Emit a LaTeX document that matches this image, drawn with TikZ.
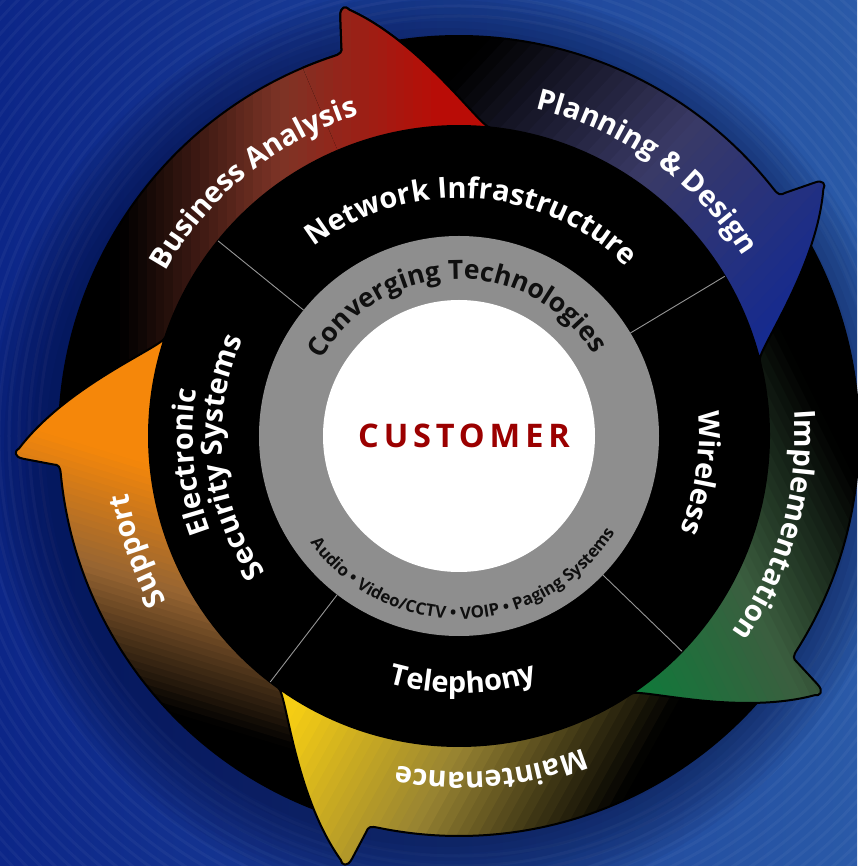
\documentclass[tikz,border=0pt]{standalone}
\usepackage{fontspec}
\setmainfont{Open Sans}
\usetikzlibrary{decorations.text}
\definecolor{redM}{RGB}{125,52,38}
\definecolor{redE}{RGB}{185,12,6}
\definecolor{bluM}{RGB}{58,58,102}
\definecolor{bluE}{RGB}{21,42,144}
\definecolor{grnM}{RGB}{59,94,63}
\definecolor{grnE}{RGB}{15,122,58}
\definecolor{yelM}{RGB}{150,130,50}
\definecolor{yelE}{RGB}{245,205,20}
\definecolor{orgM}{RGB}{150,100,50}
\definecolor{orgE}{RGB}{245,135,10}
\definecolor{ringgray}{RGB}{142,142,142}
\definecolor{custred}{RGB}{155,0,0}
\definecolor{bgL}{RGB}{12,38,136}
\definecolor{bgR}{RGB}{42,90,168}
\definecolor{shadow}{RGB}{4,10,50}
\definecolor{divgray}{RGB}{150,150,150}
\definecolor{txtdark}{RGB}{15,15,15}
\tikzset{arrowline/.style={draw=black, line width=2pt, line join=round}}
% arrow outline: s = tail angle, n = notch, b = barb, t = tip
\newcommand\arrowshape[4]{(#1:310) -- (#1:400) arc[start angle=#1, end angle={#2+1.5}, radius=400]
  .. controls ({#2+0.3}:400) and ({#2}:401) .. ({#2-0.1}:407)
  -- ({#3+0.4}:436) .. controls ({#3+0.1}:446) and ({#3-0.7}:445) .. ({#3-1}:440)
  .. controls ({#3-10}:395) and ({#4+2}:311) .. (#4:310)
  arc[start angle=#4, end angle=#1, radius=310] -- cycle}
\newcommand\gradarrow[9]{%
  \begin{scope}
    \clip \arrowshape{#1}{#2}{#3}{#4};
    \fill[black] (-700,-700) rectangle (700,700);
    \begin{scope}[shift={#5}, rotate=#6]
      \foreach \gi in {0,...,35}{%
        \pgfmathsetmacro\gxa{#7*\gi/36}%
        \pgfmathsetmacro\gxb{#7*(\gi+1)/36+0.8}%
        \ifnum\gi<18
          \pgfmathtruncatemacro\gp{100*(\gi+0.5)/18}\colorlet{gc}{#8!\gp!black}%
        \else
          \pgfmathtruncatemacro\gp{100*(\gi-17.5)/18}\colorlet{gc}{#9!\gp!#8}%
        \fi
        \fill[gc] (\gxa,-1000) -- (\gxb,-1000) -- (\gxb,1000) -- (\gxa,1000) -- cycle;
      }
      \fill[#9] (#7,-1000) -- (1800,-1000) -- (1800,1000) -- (#7,1000) -- cycle;
    \end{scope}
  \end{scope}
  \path[arrowline] \arrowshape{#1}{#2}{#3}{#4};
}
\newcommand\cwtext[5]{%
  \path[decorate, decoration={text along path, text align=center, text color=#4, text={|#3|#5}}]
    ({#1+80}:#2) arc[start angle={#1+80}, end angle={#1-80}, radius=#2];}
\newcommand\ccwtext[5]{%
  \path[decorate, decoration={text along path, text align=center, text color=#4, text={|#3|#5}}]
    ({#1-80}:#2) arc[start angle={#1-80}, end angle={#1+80}, radius=#2];}
\newcommand\labfont{\bfseries\fontsize{29}{29}\selectfont}
\newcommand\ctfont{\bfseries\fontsize{26.5}{26.5}\selectfont}
\newcommand\avfont{\bfseries\fontsize{16.8}{16.8}\selectfont}
\begin{document}
\begin{tikzpicture}[x=1pt,y=1pt]
\useasboundingbox (-459,-430) rectangle (398,436);
% background
\shade[left color=bgL, right color=bgR] (-459,-430) rectangle (398,436);
\begin{scope}
  \clip (-459,-430) rectangle (398,436);
  \foreach \r in {420,430,...,1000} \draw[white, opacity=0.04, line width=3pt] (0,0) circle (\r);
  \foreach \k in {1,...,10} \fill[shadow, opacity=0.06] (-14,-12) circle ({392+7*\k});
\end{scope}
% arrows (each head over next tail)
\gradarrow{179.5}{106.9}{105.4}{84.3}{(-339,0)}{0}{320}{redM}{redE}
\gradarrow{252.4}{184.1}{182.6}{161.5}{(-229,-294)}{73}{230}{orgM}{orgE}
\gradarrow{-38.2}{-103.1}{-104.6}{-125.6}{(218,-267)}{150.9}{330}{yelM}{yelE}
\gradarrow{32.1}{-33.7}{-35.1}{-56.2}{(318,113)}{206.6}{290}{grnM}{grnE}
\gradarrow{102.3}{36.8}{35.1}{14.1}{(11,376)}{-43}{410}{bluM}{bluE}
\begin{scope}
  \clip (0,0) -- (70:700) arc[start angle=70, end angle=113, radius=700] -- cycle;
  \gradarrow{179.5}{106.9}{105.4}{84.3}{(-339,0)}{0}{320}{redM}{redE}
\end{scope}
% inner disk
\fill[black] (0,0) circle (310);
\foreach \a in {141,31,-44,-127.5} \draw[divgray, line width=0.9pt] (\a:200) -- (\a:310);
\fill[ringgray] (0,0) circle (200);
\fill[white] (0,0) circle (136);
\node[font=\bfseries\fontsize{32.5}{32.5}\selectfont\addfontfeature{LetterSpace=15}, text=custred, inner sep=0pt] (cust) at (5,0) {CUSTOMER};
% inner labels
\cwtext{86.4}{238}{\labfont}{white}{Network Infrastructure}
\cwtext{-8.6}{240}{\labfont}{white}{Wireless}
\ccwtext{-89}{257}{\labfont}{white}{Telephony}
\cwtext{185.5}{266}{\labfont}{white}{Electronic}
\cwtext{185.5}{237}{\labfont}{white}{Security Systems}
\cwtext{91}{157}{\ctfont}{txtdark}{Converging Technologies}
\ccwtext{-88}{183}{\avfont}{txtdark}{Audio {•} Video/CCTV {•} VOIP {•} Paging Systems}
% arrow labels
\cwtext{129}{336}{\labfont}{white}{Business Analysis}
\cwtext{54.6}{336}{\labfont}{white}{Planning {\&} Design}
\cwtext{-15.7}{336}{\labfont}{white}{Implementation}
\cwtext{-84.5}{336}{\labfont}{white}{Maintenance}
\cwtext{199.6}{336}{\labfont}{white}{Support}
\end{tikzpicture}
\end{document}
